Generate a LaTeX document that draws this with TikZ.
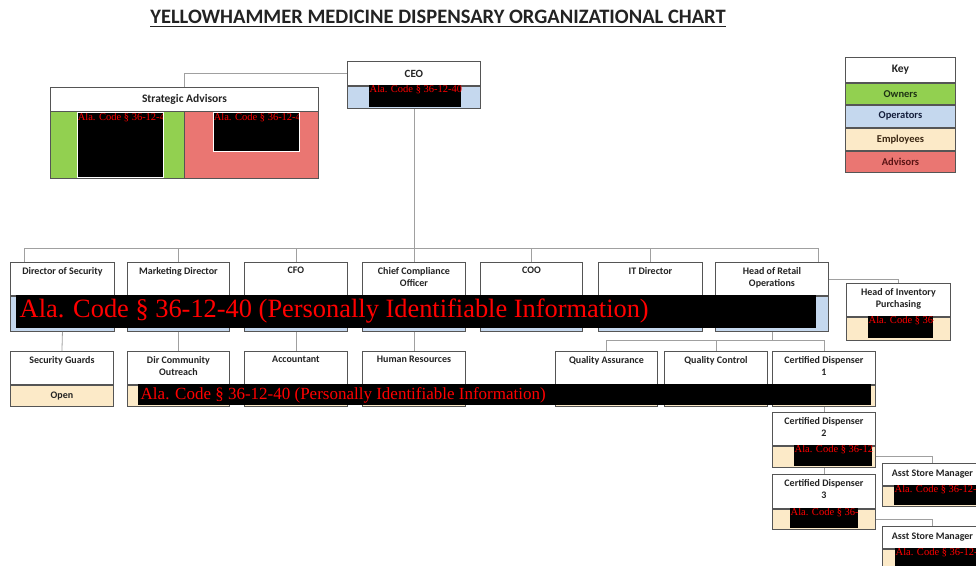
\documentclass[tikz,border=0pt]{standalone}
\usepackage{fontspec}
\setmainfont{Carlito}
\newfontfamily\redfont{Liberation Serif}
\usetikzlibrary{calc}
\definecolor{owngreen}{RGB}{146,208,80}
\definecolor{opblue}{RGB}{197,216,238}
\definecolor{emptan}{RGB}{252,234,200}
\definecolor{advred}{RGB}{234,118,114}
\definecolor{boxc}{RGB}{85,85,85}
\definecolor{connc}{RGB}{160,160,160}
\definecolor{txtc}{RGB}{35,35,35}
\definecolor{redtxt}{RGB}{255,0,0}
\tikzset{
  hdr/.style={draw=boxc, fill=white, line width=0.9pt, rectangle, inner sep=0pt, anchor=north west},
  low/.style={draw=boxc, line width=0.9pt, rectangle, inner sep=0pt, anchor=north west},
  lbl/.style={font=\bfseries\fontsize{10}{12}\selectfont, text=txtc, align=center, inner sep=0pt, anchor=north},
  redact/.style={fill=black, draw=none, rectangle, inner sep=0pt, anchor=north west},
  conn/.style={draw=connc, line width=0.8pt},
  keyrow/.style={draw=boxc, line width=0.9pt, rectangle, inner sep=0pt, anchor=north west, minimum width=110,
    font=\bfseries\fontsize{10.5}{12}\selectfont}
}
% name, x, y, w, h1, h2, fill, text
\newcommand\rolebox[8]{%
  \node[hdr, minimum width=#4, minimum height=#5] (#1) at (#2,#3) {};
  \node[low, fill=#7, minimum width=#4, minimum height=#6] (#1b) at (#1.south west) {};
  \node[lbl] (#1t) at ([yshift=-5pt]#1.north) {#8};
}
% [style] name, x, y, w, h, size, text
\newcommand\redbox[8][]{%
  \node[redact, #1, minimum width=#5, minimum height=#6,
    path picture={\node[anchor=north west, inner sep=0pt, outer sep=0pt, draw=none, fill=none,
      minimum width=0pt, minimum height=0pt, text=redtxt,
      font=\redfont\fontsize{#7}{#7}\selectfont]
      at ([xshift=0.5pt,yshift=-0.5pt]path picture bounding box.north west) {#8};}] (#2) at (#3,#4) {};
}
\begin{document}
\begin{tikzpicture}[x=1pt,y=-1pt]
\useasboundingbox (0,0) rectangle (976,565);
\clip (0,0) rectangle (976,565);
\fill[white] (0,0) rectangle (976,565);

% title
\node[font=\bfseries\fontsize{20.5}{24}\selectfont, text=txtc, inner sep=0pt] (title) at (438,17)
  {YELLOWHAMMER MEDICINE DISPENSARY ORGANIZATIONAL CHART};
\draw[line width=1.3pt, txtc] ([yshift=-2.5pt]title.base west) -- ([yshift=-2.5pt]title.base east);

% CEO
\node[hdr, minimum width=133, minimum height=24, font=\bfseries\fontsize{11}{13}\selectfont, text=txtc] (ceo) at (347,61) {CEO};
\node[low, fill=opblue, minimum width=133, minimum height=22] (ceob) at (ceo.south west) {};
\redbox{ceor}{369}{85}{92}{22}{10.5}{Ala. Code § 36-12-40}

% Strategic advisors
\node[hdr, minimum width=268, minimum height=24, font=\bfseries\fontsize{11.5}{13}\selectfont, text=txtc] (sa) at (50,87) {Strategic Advisors};
\node[low, fill=owngreen, minimum width=134, minimum height=67] (sag) at (50,111) {};
\node[low, fill=advred, minimum width=134, minimum height=67] (sar) at (184,111) {};
\redbox[draw=white, line width=0.6pt]{sagr}{77}{112}{86}{65}{10.5}{Ala. Code § 36-12-40}
\redbox[draw=white, line width=0.6pt]{sarr}{213}{112}{86}{39}{10.5}{Ala. Code § 36-12-40}

% Key
\node[keyrow, fill=white, minimum height=25, text=txtc, font=\bfseries\fontsize{11.5}{13}\selectfont] (key) at (845,57) {Key};
\node[keyrow, fill=owngreen, minimum height=21, text={rgb,255:red,30;green,50;blue,20}] (kown) at (key.south west) {Owners};
\node[keyrow, fill=opblue, minimum height=22, text={rgb,255:red,20;green,30;blue,60}] (kop) at (kown.south west) {Operators};
\node[keyrow, fill=emptan, minimum height=22, text={rgb,255:red,60;green,40;blue,20}] (kemp) at (kop.south west) {Employees};
\node[keyrow, fill=advred, minimum height=21, text={rgb,255:red,90;green,20;blue,20}] (kadv) at (kemp.south west) {Advisors};

% Directors row
\rolebox{dos}{10}{262}{104}{33}{35}{opblue}{Director of Security}
\rolebox{mkt}{127}{262}{102}{33}{35}{opblue}{Marketing Director}
\rolebox{cfo}{244}{262}{103}{33}{35}{opblue}{CFO}
\rolebox{cco}{362}{262}{103}{33}{35}{opblue}{Chief Compliance\\Officer}
\rolebox{coo}{480}{262}{102}{33}{35}{opblue}{COO}
\rolebox{itd}{598}{262}{104}{33}{35}{opblue}{IT Director}
\rolebox{hro}{715}{262}{113}{33}{35}{opblue}{Head of Retail\\Operations}
\rolebox{hip}{846}{283}{104}{33}{23}{emptan}{Head of Inventory\\Purchasing}
\redbox{bar1}{16}{295}{800}{33}{26.4}{\rule{0pt}{21.5pt}\hspace*{3pt}Ala. Code § 36-12-40 (Personally Identifiable Information)}
\redbox{hipr}{868}{316}{65}{22}{10.5}{Ala. Code § 36-12-40}

% Second row
\rolebox{sg}{10}{351}{103}{33}{21}{emptan}{Security Guards}
\node[font=\bfseries\fontsize{10}{12}\selectfont, text=txtc, inner sep=0pt] (sgt) at (sgb.center) {Open};
\rolebox{dco}{127}{351}{102}{33}{21}{emptan}{Dir Community\\Outreach}
\rolebox{acc}{244}{351}{103}{33}{21}{emptan}{Accountant}
\rolebox{hr}{362}{351}{103}{33}{21}{emptan}{Human Resources}
\rolebox{qa}{555}{351}{102}{33}{21}{emptan}{Quality Assurance}
\rolebox{qc}{664}{351}{103}{33}{21}{emptan}{Quality Control}
\rolebox{cd1}{772}{351}{103}{33}{21}{emptan}{Certified Dispenser\\1}
\redbox{bar2}{138}{384}{733}{21}{17}{\rule{0pt}{15pt}\hspace*{2pt}Ala. Code § 36-12-40 (Personally Identifiable Information)}

% Dispensers and store managers
\rolebox{cd2}{772}{412}{103}{33}{21}{emptan}{Certified Dispenser\\2}
\redbox{cd2r}{794}{445}{78}{21}{10.5}{Ala. Code § 36-12-40}
\rolebox{cd3}{772}{474}{103}{34}{20}{emptan}{Certified Dispenser\\3}
\redbox{cd3r}{790}{508}{68}{20}{10.5}{Ala. Code § 36-12-40}
\node[hdr, minimum width=100, minimum height=22, font=\bfseries\fontsize{10}{12}\selectfont, text=txtc] (asm1) at (882,463) {Asst Store Manager};
\node[low, fill=emptan, minimum width=100, minimum height=20] (asm1b) at (asm1.south west) {};
\redbox{asm1r}{894}{485}{90}{20}{10.5}{Ala. Code § 36-12-40}
\node[hdr, minimum width=100, minimum height=22, font=\bfseries\fontsize{10}{12}\selectfont, text=txtc] (asm2) at (882,526) {Asst Store Manager};
\node[low, fill=emptan, minimum width=100, minimum height=22] (asm2b) at (asm2.south west) {};
\redbox{asm2r}{895}{548}{90}{22}{10.5}{Ala. Code § 36-12-40}

% Connectors
\coordinate (busL) at (24,248);
\coordinate (busR) at (818,248);
\coordinate (qbus) at (0,340);
\draw[conn] (ceo.west) -| (sa.north);
\draw[conn] (ceob.south) -- (ceob.south |- busL);
\draw[conn] (busL) -- (busR);
\draw[conn] (busL) -- (busL |- dos.north);
\draw[conn] (busR) -- (busR |- hro.north);
\foreach \n in {mkt,cfo,cco,coo,itd} \draw[conn] (\n.north) -- (\n.north |- busL);
\draw[conn] (hro.east) -| (hip.north);
\draw[conn] (dosb.south) -- (sg.north);
\draw[conn] (mktb.south) -- (dco.north);
\draw[conn] (cfob.south) -- (acc.north);
\draw[conn] (ccob.south) -- (hr.north);
\draw[conn] (hrob.south) -- (hrob.south |- qbus);
\draw[conn] (qa.north) |- (cd1.north |- qbus) -- (cd1.north);
\draw[conn] (qc.north) -- (qc.north |- qbus);
\draw[conn] (cd1b.south) -- (cd2.north);
\draw[conn] (cd2b.south) -- (cd3.north);
\draw[conn] (cd2b.east) -| (asm1.north);
\draw[conn] (cd3b.east) -| (asm2.north);
\end{tikzpicture}
\end{document}
